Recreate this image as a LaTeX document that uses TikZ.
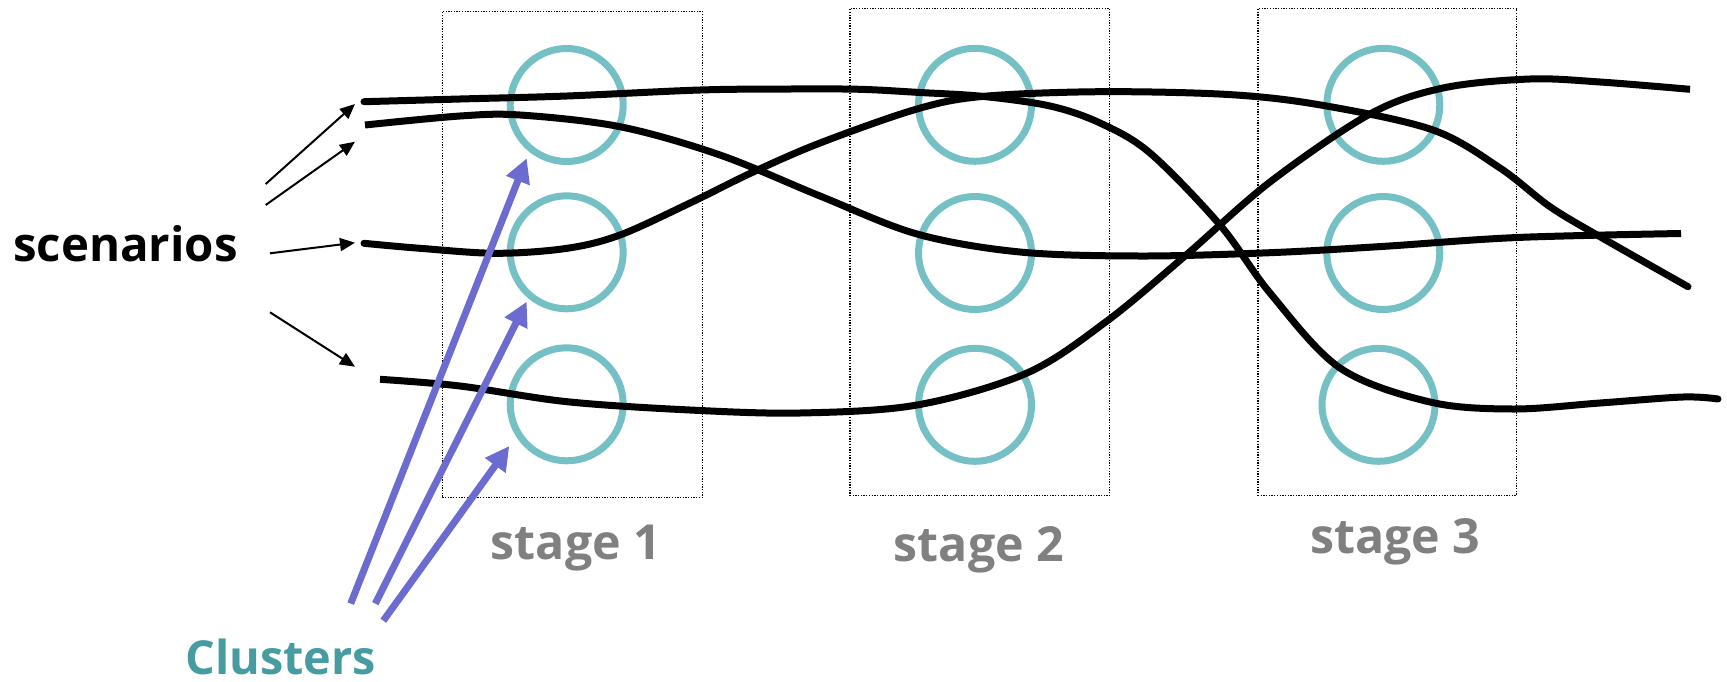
\documentclass[tikz,border=0pt]{standalone}
\usepackage{fontspec}
\setmainfont{Open Sans}
\usetikzlibrary{arrows.meta}

\definecolor{clusterteal}{RGB}{116,192,196}
\definecolor{labelteal}{RGB}{70,156,161}
\definecolor{pointer}{RGB}{107,107,208}
\definecolor{stagegray}{RGB}{128,128,128}

\tikzset{
  cluster/.style={circle, draw=clusterteal, line width=7pt, minimum size=113pt, inner sep=0pt},
  stagebox/.style={draw=black, line width=1.3pt, dash pattern=on 1.3pt off 1.4pt},
  trajectory/.style={draw=black, line width=7pt, line cap=butt},
  feed/.style={draw=black, line width=2pt, -{Triangle[length=15pt,width=13pt]}},
  pointto/.style={draw=pointer, line width=7pt, -{Triangle[length=24pt,width=24pt]}},
  stagelabel/.style={text=stagegray, font=\fontsize{48.3}{52}\selectfont\bfseries, anchor=base, inner sep=0pt, text depth=0pt},
}

\begin{document}
\begin{tikzpicture}[x=1pt, y=-1pt]
\useasboundingbox (0,0) rectangle (1727,681);

% stage frames
\node[stagebox, minimum width=260pt, minimum height=486.3pt, anchor=north west] (s1) at (441.7,10.7) {};
\node[stagebox, minimum width=259.7pt, minimum height=487.1pt, anchor=north west] (s2) at (849.3,7.9) {};
\node[stagebox, minimum width=258.7pt, minimum height=486.7pt, anchor=north west] (s3) at (1257.3,7.9) {};

% cluster circles
\node[cluster] (c11) at (566.7,105) {};
\node[cluster] (c12) at (566.7,252.3) {};
\node[cluster] (c13) at (566.7,404.3) {};
\node[cluster] (c21) at (975,104.8) {};
\node[cluster] (c22) at (975,253) {};
\node[cluster] (c23) at (975,404.8) {};
\node[cluster] (c31) at (1383.3,104.8) {};
\node[cluster] (c32) at (1383.3,253) {};
\node[cluster] (c33) at (1378.5,404.8) {};

% scenario trajectories
\draw[trajectory, line cap=round] plot[smooth, tension=0.55] coordinates {
  (364,101.7) (460,99) (567,96) (700,90) (790,89) (860,89.3) (920,92.5) (983,96.4)
  (1050,106) (1100,123) (1150,153) (1220,225) (1270,293) (1340,368) (1430,402)
  (1513,409) (1600,403) (1683,397) (1718,399)};
\draw[trajectory] plot[smooth, tension=0.55] coordinates {
  (365,125) (460,116) (520,115) (620,126.7) (720,155) (820,196) (917,234)
  (1020,252) (1140,256) (1270,252.7) (1383,246.4) (1517,237.5) (1681,233.5)};
\draw[trajectory, line cap=round] plot[smooth, tension=0.55] coordinates {
  (364,243.3) (420,248.3) (497,253.3) (567,248.3) (620,235) (690,203) (751.7,172.7)
  (820,143) (917,109) (983,96.4) (1100,91.7) (1230,94.6) (1323,105.4) (1433,130)
  (1500,168) (1550,206.7) (1600,236.7) (1688,286.7)};
\draw[trajectory] plot[smooth, tension=0.55] coordinates {
  (380,379.3) (460,386) (567,401.7) (690,410) (800,413) (917,405)
  (1027,373) (1107,321) (1185,256) (1270,182) (1370,114)
  (1443,88) (1530,79) (1600,82) (1690,89.3)};

% labels
\node[anchor=base west, inner sep=0pt, text depth=0pt, font=\fontsize{47.4}{51}\selectfont\bfseries] (scen) at (13,261) {scenarios};
\node[stagelabel] (l1) at (576,559) {stage 1};
\node[stagelabel] (l2) at (979,561) {stage 2};
\node[stagelabel] (l3) at (1395.5,553) {stage 3};
\node[anchor=base west, inner sep=0pt, text depth=0pt, text=labelteal, font=\fontsize{46.8}{50}\selectfont\bfseries] (clus) at (185,674) {Clusters};

% arrows from the scenarios label to the trajectory starts
\coordinate (f1a) at (265.7,184);   \coordinate (f1b) at (355,104);
\coordinate (f2a) at (265.7,205);   \coordinate (f2b) at (355,141.7);
\coordinate (f3a) at (270,253.3);   \coordinate (f3b) at (355,242.7);
\coordinate (f4a) at (270,312.3);   \coordinate (f4b) at (355,366.7);
\draw[feed] (f1a) -- (f1b);
\draw[feed] (f2a) -- (f2b);
\draw[feed] (f3a) -- (f3b);
\draw[feed] (f4a) -- (f4b);

% pointers from the Clusters label to the stage 1 circles
\coordinate (p1a) at (350.7,603.6); \coordinate (p1b) at (526.7,158.3);
\coordinate (p2a) at (375.3,603.6); \coordinate (p2b) at (526.7,301.7);
\coordinate (p3a) at (383.3,620.7); \coordinate (p3b) at (509.3,446);
\draw[pointto] (p1a) -- (p1b);
\draw[pointto] (p2a) -- (p2b);
\draw[pointto] (p3a) -- (p3b);
\end{tikzpicture}
\end{document}
